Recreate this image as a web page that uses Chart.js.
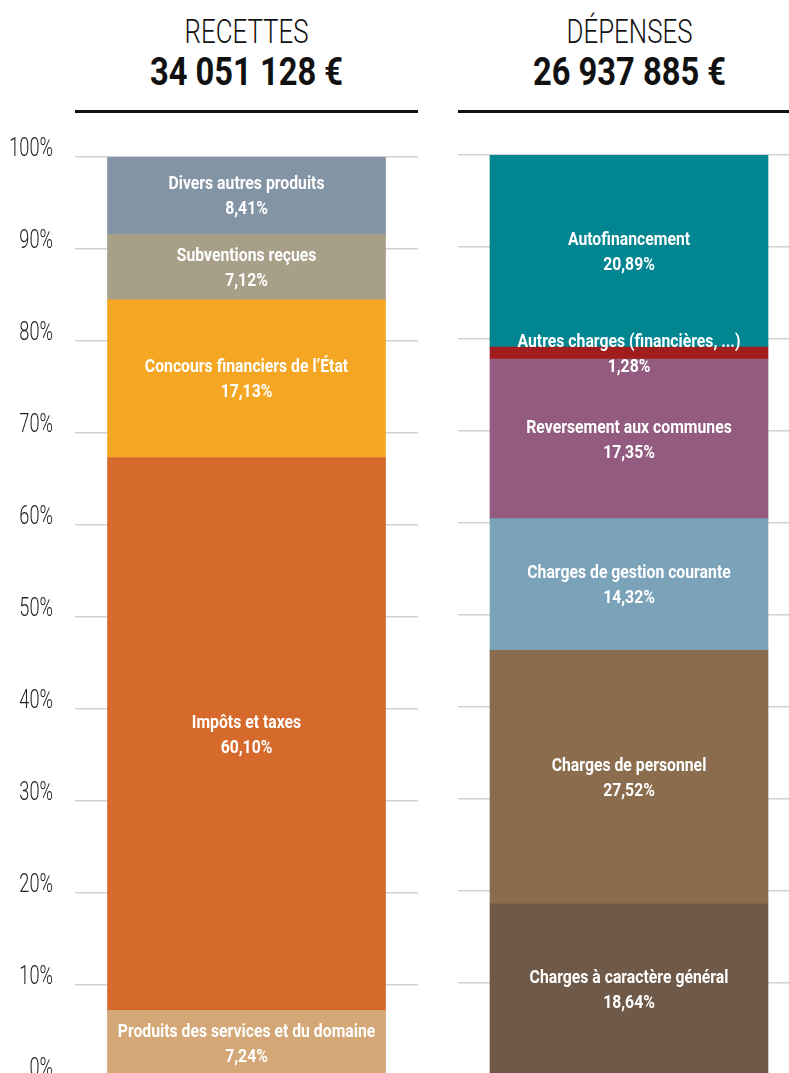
<!DOCTYPE html>
<html><head><meta charset="utf-8">
<script src="https://cdn.jsdelivr.net/npm/chart.js@4.4.1/dist/chart.umd.min.js"></script>
<style>
html,body{margin:0;padding:0;width:789px;height:1073px;overflow:hidden;background:#fff;}
.box{position:absolute;top:0;}
.hdr{position:absolute;width:343px;text-align:center;color:#111;white-space:nowrap;transform-origin:50% 50%;}
.t1{font-family:Roboto,sans-serif;font-weight:300;font-size:34px;line-height:36px;top:13px;transform:scaleX(0.76);}
.t2{font-family:Roboto,sans-serif;font-weight:bold;font-size:38px;line-height:40px;top:52px;transform:scaleX(0.86);}
.rule{position:absolute;top:110px;height:3px;background:#111;}
</style></head>
<body>
<div class="hdr t1" style="left:75px;">RECETTES</div>
<div class="hdr t2" style="left:75px;">34 051 128 €</div>
<div class="rule" style="left:75px;width:343px;"></div>
<div class="hdr t1" style="left:458px;">DÉPENSES</div>
<div class="hdr t2" style="left:458px;">26 937 885 €</div>
<div class="rule" style="left:458px;width:331px;"></div>
<div class="box" style="left:0;"><canvas id="c1" width="418" height="1100"></canvas></div>
<div class="box" style="left:458px;"><canvas id="c2" width="342" height="1100"></canvas></div>
<script>
const recettesCategories = ['Produits des services et du domaine', 'Impôts et taxes', 'Concours financiers de l’État', 'Subventions reçues', 'Divers autres produits'];
const recettesValues = [7.24, 60.10, 17.13, 7.12, 8.41];
const recettesColors = ['#d4a776', '#d66a2d', '#f5a724', '#a89f88', '#8394a5'];

const depensesCategories = ['Charges à caractère général', 'Charges de personnel', 'Charges de gestion courante', 'Reversement aux communes', 'Autres charges (financières, ...)', 'Autofinancement'];
const depensesValues = [18.64, 27.52, 14.32, 17.35, 1.28, 20.89];
const depensesColors = ['#6f5948', '#8b6d4e', '#7aa2b8', '#925b7f', '#a01c1d', '#008591'];

const yTickStep = 10;
const formatTick = v => v + '%';

const labelPlugin = {
  id: 'segLabels',
  afterDatasetsDraw(chart) {
    const ctx = chart.ctx;
    ctx.save();
    ctx.fillStyle = '#ffffff';
    ctx.textAlign = 'center';
    ctx.textBaseline = 'middle';
    ctx.font = 'bold 19px Roboto, sans-serif';
    chart.data.datasets.forEach((ds, i) => {
      const el = chart.getDatasetMeta(i).data[0];
      const cy = (el.y + el.base) / 2;
      const pct = ds.data[0].toFixed(2).replace('.', ',') + '%';
      [[ds.label, cy - 11], [pct, cy + 14]].forEach(([txt, y]) => {
        ctx.save();
        ctx.translate(el.x, y);
        ctx.scale(0.83, 1);
        ctx.fillText(txt, 0, 0);
        ctx.restore();
      });
    });
    ctx.restore();
  }
};

const tickPlugin = {
  id: 'tickLabels',
  afterDraw(chart) {
    if (!chart.options.plugins.tickLabels.show) return;
    const s = chart.scales.y;
    const ctx = chart.ctx;
    ctx.save();
    ctx.fillStyle = '#222';
    ctx.textAlign = 'right';
    ctx.textBaseline = 'alphabetic';
    ctx.font = '300 26px Roboto, sans-serif';
    s.ticks.forEach(t => {
      const y = s.getPixelForValue(t.value);
      ctx.save();
      ctx.translate(53, y - 1);
      ctx.scale(0.7, 1);
      ctx.fillText(formatTick(t.value), 0, 0);
      ctx.restore();
    });
    ctx.restore();
  }
};

function makeChart(id, cats, vals, colors, showTicks, top, bottom, yWidth) {
  return new Chart(document.getElementById(id), {
    type: 'bar',
    data: {
      labels: [''],
      datasets: cats.map((c, i) => ({
        label: c, data: [vals[i]], backgroundColor: colors[i], borderWidth: 0, barThickness: 278
      }))
    },
    options: {
      responsive: false, animation: false, events: [],
      layout: { padding: { top: top, bottom: bottom, left: 0, right: 0 } },
      plugins: { legend: { display: false }, tooltip: { enabled: false }, tickLabels: { show: showTicks } },
      scales: {
        x: { stacked: true, display: false },
        y: {
          stacked: true, min: 0, max: 100,
          afterFit: s => { s.width = yWidth; },
          border: { display: false },
          grid: { color: '#d2d2d2', lineWidth: 1.5, drawTicks: false },
          ticks: { display: false, stepSize: yTickStep, callback: formatTick }
        }
      }
    },
    plugins: [labelPlugin, tickPlugin]
  });
}

makeChart('c1', recettesCategories, recettesValues, recettesColors, true, 157, 23, 75);
makeChart('c2', depensesCategories, depensesValues, depensesColors, false, 155, 25, 0);
</script>
</body></html>
